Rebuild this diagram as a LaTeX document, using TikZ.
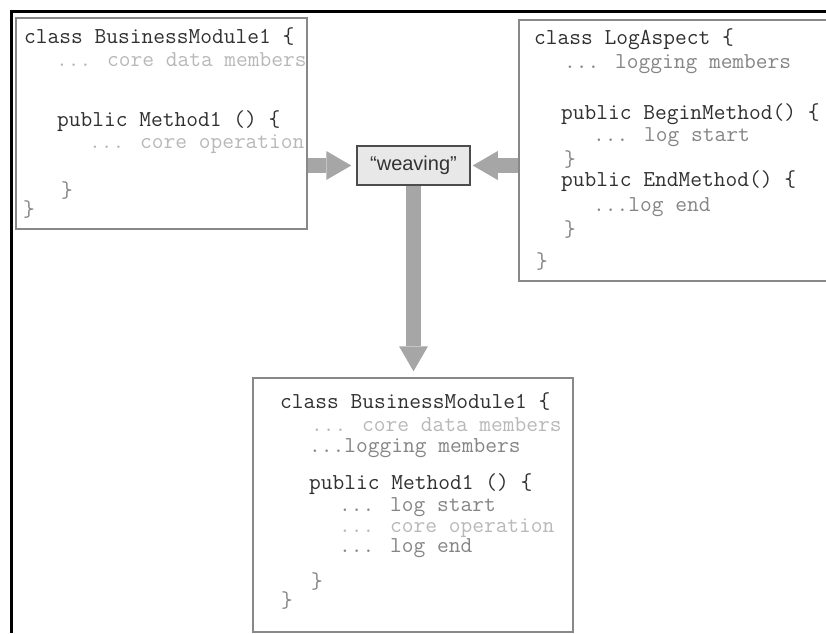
\documentclass[tikz,border=0pt]{standalone}
\usepackage{fontspec}
\setsansfont{Liberation Sans}
\usepackage{tikz}
\usetikzlibrary{arrows.meta,positioning}

\definecolor{boxgray}{HTML}{888888}
\definecolor{arrowgray}{HTML}{A6A6A6}
\definecolor{codedark}{HTML}{303030}
\definecolor{codemid}{HTML}{858585}
\definecolor{codelight}{HTML}{B8B8B8}

\begin{document}
\begin{tikzpicture}[x=1pt,y=-1pt,
  codebox/.style={rectangle,draw=boxgray,line width=1.5pt,inner sep=0pt},
  code/.style={anchor=base west,inner sep=0pt,
    font=\ttfamily\fontsize{22.8}{26}\selectfont,text=#1},
  code/.default=codedark,
  weavebox/.style={rectangle,draw=black!70,fill=black!9,line width=1.5pt,
    minimum width=113pt,minimum height=39pt,inner sep=0pt,
    font=\sffamily\fontsize{20}{24}\selectfont,text=black!80},
  fat/.style={draw=arrowgray,line width=15pt,
    -{Triangle[length=25pt,width=29pt,line width=0pt]}}
]
\useasboundingbox (0,0) rectangle (826,633);

% frame
\draw[black,line width=3pt] (826,11.5) -- (11.5,11.5) -- (11.5,633);

% boxes
\node[codebox,minimum width=291pt,minimum height=211pt] (bm)   at (161.5,123.5) {};
\node[codebox,minimum width=381pt,minimum height=261pt] (log)  at (709.5,150.5) {};
\node[codebox,minimum width=320pt,minimum height=254pt] (res)  at (413,505)     {};
\node[weavebox] (weave) at (413.5,165.5) {“weaving”};

% business module
\begin{scope}
\clip (bm.south west) rectangle (bm.north east);
\foreach \x/\y/\c/\t [count=\i] in {
  24/43/codedark/{class BusinessModule1 \{},
  56/66/codelight/{... core data members},
  57/126/codedark/{public Method1 () \{},
  89/148/codelight/{... core operation},
  61/197/codemid/{\}},
  23/216/codemid/{\}}}
  \node[code=\c] (bm\i) at (\x,\y) {\t};
\end{scope}

% log aspect
\foreach \x/\y/\c/\t [count=\i] in {
  534/44/codedark/{class LogAspect \{},
  564/68/codemid/{... logging members},
  561/119/codedark/{public BeginMethod() \{},
  593/141/codemid/{... log start},
  564/166/codemid/{\}},
  561/186/codedark/{public EndMethod() \{},
  593/211/codemid/{...log end},
  564/236/codemid/{\}},
  536/268/codemid/{\}}}
  \node[code=\c] (la\i) at (\x,\y) {\t};

% woven result
\foreach \x/\y/\c/\t [count=\i] in {
  280/408/codedark/{class BusinessModule1 \{},
  311/431/codelight/{... core data members},
  309/452/codemid/{...logging members},
  309/489/codedark/{public Method1 () \{},
  339/511/codemid/{... log start},
  339/532/codelight/{... core operation},
  339/552/codemid/{... log end},
  311/588/codemid/{\}},
  281/607/codemid/{\}}}
  \node[code=\c] (rs\i) at (\x,\y) {\t};

% weaving arrows
\draw[fat,shorten >=5pt] (weave.west -| bm.east) -- (weave.west);
\draw[fat,shorten >=2pt] (weave.east -| log.west) -- (weave.east);
\draw[fat,shorten >=6pt] (weave.south) -- (weave.south |- res.north);
\end{tikzpicture}
\end{document}
